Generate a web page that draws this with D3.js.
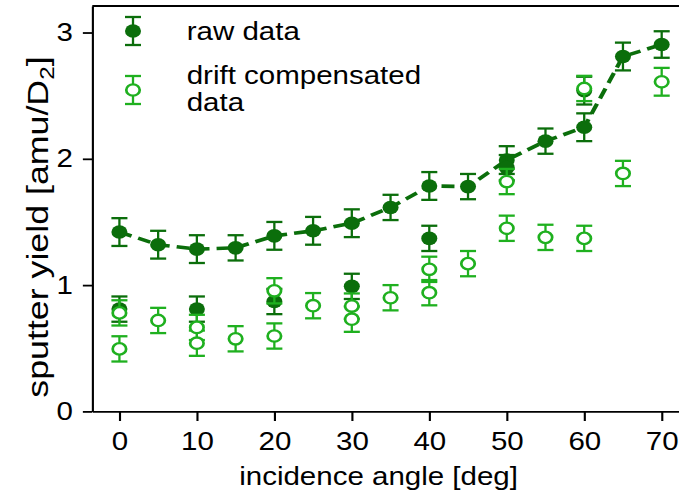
<!DOCTYPE html>
<html>
<head>
<meta charset="utf-8">
<script src="https://cdn.jsdelivr.net/npm/d3@7"></script>
<style>
  body { margin: 0; background: #fff; }
  svg { display: block; font-family: "Liberation Sans", Arial, sans-serif; }
</style>
</head>
<body>
<script>
// incidence angles of the main series
var angles = [0, 5, 10, 15, 20, 25, 30, 35, 40, 45, 50, 55, 60, 65, 70];
// raw data, main series (dashed line)
var rawMain = [1.42, 1.32, 1.285, 1.295, 1.39, 1.43, 1.49, 1.615, 1.785, 1.78, 1.99, 2.14, 2.25, 2.81, 2.905];
var rawMainErr = [0.11, 0.11, 0.11, 0.1, 0.11, 0.11, 0.11, 0.1, 0.11, 0.1, 0.11, 0.1, 0.11, 0.11, 0.105];
// extra raw measurements
var rawExtraAngles = [0, 10, 20, 30, 40, 50, 60];
var rawExtra = [0.81, 0.81, 0.87, 0.99, 1.37, 1.93, 2.54];
var rawExtraErr = [0.1, 0.1, 0.1, 0.1, 0.1, 0.1, 0.11];
// drift compensated data
var compAngles = [0, 0, 5, 10, 10, 15, 20, 20, 25, 30, 30, 35, 40, 40, 45, 50, 50, 55, 60, 60, 65, 70];
var comp = [0.78, 0.495, 0.72, 0.665, 0.54, 0.575, 0.955, 0.597, 0.837, 0.834, 0.73, 0.90, 1.125, 0.94, 1.17, 1.82, 1.45, 1.378, 2.557, 1.37, 1.884, 2.61];
var compErr = [0.1, 0.1, 0.1, 0.1, 0.1, 0.1, 0.1, 0.1, 0.1, 0.1, 0.1, 0.1, 0.1, 0.1, 0.1, 0.1, 0.1, 0.1, 0.1, 0.1, 0.1, 0.11];

var xTicks = [0, 10, 20, 30, 40, 50, 60, 70];
var yTicks = [0, 1, 2, 3];

var darkGreen = "#0b6e0b";
var lightGreen = "#1fb01f";

// picture is stretched horizontally, draw in a narrower space and stretch
var sx = 1.18;
var width = 679, height = 497;
var lw = width / sx;

var svg = d3.select("body").append("svg")
    .attr("width", width).attr("height", height)
    .attr("viewBox", "0 0 " + lw + " " + height)
    .attr("preserveAspectRatio", "none");

var x = d3.scaleLinear().domain([-3.5, 73.5]).range([92.3 / sx, 688.8 / sx]);
var y = d3.scaleLinear().domain([0, 3.21]).range([411.4, 6]);

// axes
var xAxis = d3.axisBottom(x).tickValues(xTicks).tickSize(9.6).tickSizeOuter(0).tickPadding(11);
var yAxis = d3.axisLeft(y).tickValues(yTicks).tickFormat(d3.format("d"))
    .tickSize(8).tickSizeOuter(0).tickPadding(8.5);

var gx = svg.append("g").attr("transform", "translate(0," + y(0) + ")").call(xAxis);
var gy = svg.append("g").attr("transform", "translate(" + x(-3.5) + ",0)").call(yAxis);
svg.selectAll(".domain, .tick line").attr("stroke", "#000").attr("stroke-width", 1.8);
svg.selectAll(".tick text").attr("font-size", 25).attr("fill", "#000")
    .attr("font-family", "'Liberation Sans', Arial, sans-serif");

// top spine
svg.append("line").attr("x1", x(-3.5)).attr("x2", x(73.5))
    .attr("y1", y(3.21)).attr("y2", y(3.21))
    .attr("stroke", "#000").attr("stroke-width", 1.8);

// axis labels
svg.append("text").attr("x", x(35) - 12 / sx).attr("y", 485)
    .attr("text-anchor", "middle").attr("font-size", 25)
    .text("incidence angle [deg]");

var yl = svg.append("text")
    .attr("transform", "translate(" + (48 / sx) + ",227) rotate(-90) scale(1.43,1)")
    .attr("text-anchor", "middle").attr("font-size", 25);
yl.append("tspan").text("sputter yield [amu/D");
yl.append("tspan").attr("font-size", 17).attr("dy", 5).text("2");
yl.append("tspan").attr("dy", -5).text("]");

// error bars helper
var cap = 6.8;
function errorBars(g, xs, ys, es, color) {
  var gg = g.append("g").attr("stroke", color).attr("stroke-width", 2.3);
  xs.forEach(function(a, i) {
    var cx = x(a);
    gg.append("line").attr("x1", cx).attr("x2", cx)
        .attr("y1", y(ys[i] - es[i])).attr("y2", y(ys[i] + es[i])).attr("stroke-width", 2.3 / sx);
    gg.append("line").attr("x1", cx - cap).attr("x2", cx + cap)
        .attr("y1", y(ys[i] - es[i])).attr("y2", y(ys[i] - es[i]));
    gg.append("line").attr("x1", cx - cap).attr("x2", cx + cap)
        .attr("y1", y(ys[i] + es[i])).attr("y2", y(ys[i] + es[i]));
  });
}

// raw data, dashed line
var line = d3.line()
    .x(function(d, i) { return x(angles[i]); })
    .y(function(d) { return y(d); });

svg.append("path").attr("d", line(rawMain))
    .attr("fill", "none").attr("stroke", darkGreen)
    .attr("stroke-width", 3.6).attr("stroke-dasharray", "11,6");

errorBars(svg, angles, rawMain, rawMainErr, darkGreen);
svg.append("g").selectAll("circle").data(rawMain).enter().append("circle")
    .attr("cx", function(d, i) { return x(angles[i]); })
    .attr("cy", function(d) { return y(d); })
    .attr("r", 6.8).attr("fill", darkGreen);

errorBars(svg, rawExtraAngles, rawExtra, rawExtraErr, darkGreen);
svg.append("g").selectAll("circle").data(rawExtra).enter().append("circle")
    .attr("cx", function(d, i) { return x(rawExtraAngles[i]); })
    .attr("cy", function(d) { return y(d); })
    .attr("r", 6.8).attr("fill", darkGreen);

// drift compensated
errorBars(svg, compAngles, comp, compErr, lightGreen);
svg.append("g").selectAll("circle").data(comp).enter().append("circle")
    .attr("cx", function(d, i) { return x(compAngles[i]); })
    .attr("cy", function(d) { return y(d); })
    .attr("r", 5.7).attr("fill", "#fff")
    .attr("stroke", lightGreen).attr("stroke-width", 2.3);

// legend
var leg = svg.append("g");
var lx = 133 / sx;
function legendMarker(cy, color, filled) {
  var gg = leg.append("g").attr("stroke", color).attr("stroke-width", 2.3);
  gg.append("line").attr("x1", lx).attr("x2", lx).attr("y1", cy - 14).attr("y2", cy + 14).attr("stroke-width", 2.3 / sx);
  gg.append("line").attr("x1", lx - cap).attr("x2", lx + cap).attr("y1", cy - 14).attr("y2", cy - 14);
  gg.append("line").attr("x1", lx - cap).attr("x2", lx + cap).attr("y1", cy + 14).attr("y2", cy + 14);
  if (filled) {
    leg.append("circle").attr("cx", lx).attr("cy", cy).attr("r", 6.8).attr("fill", color);
  } else {
    leg.append("circle").attr("cx", lx).attr("cy", cy).attr("r", 5.7)
        .attr("fill", "#fff").attr("stroke", color).attr("stroke-width", 2.3);
  }
}
legendMarker(31, darkGreen, true);
legendMarker(90, lightGreen, false);

var tx = 186.7 / sx;
leg.append("text").attr("x", tx).attr("y", 40).attr("font-size", 25).text("raw data");
leg.append("text").attr("x", tx).attr("y", 84).attr("font-size", 25).text("drift compensated");
leg.append("text").attr("x", tx).attr("y", 111).attr("font-size", 25).text("data");
</script>
</body>
</html>
